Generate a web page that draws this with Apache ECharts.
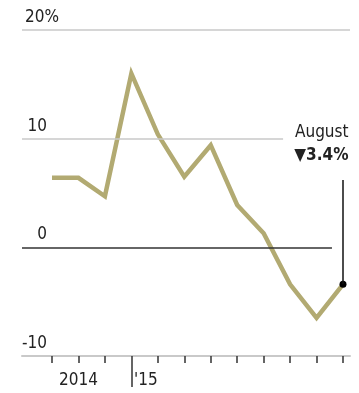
<!DOCTYPE html>
<html>
<head>
<meta charset="utf-8">
<script src="https://cdn.jsdelivr.net/npm/echarts@6/dist/echarts.min.js"></script>
<style>
  html, body { margin: 0; padding: 0; background: #fff; }
  #chart { width: 359px; height: 393px; }
</style>
</head>
<body>
<div id="chart"></div>
<script>
// Monthly change, % (points sit at month ends, Sep 2014 – Aug 2015)
const months = ['2014-09', '2014-10', '2014-11', '2014-12', '2015-01', '2015-02',
                '2015-03', '2015-04', '2015-05', '2015-06', '2015-07', '2015-08'];
const values = [6.4, 6.4, 4.7, 16.0, 10.4, 6.5, 9.4, 3.9, 1.3, -3.4, -6.5, -3.4];
const yTicks = [-10, 0, 10, 20];
const yearLabels = { 1: '2014', 3: "'15" };
const yearTickIndex = 3;
const lastLabel = 'August';

const FONT = '"Liberation Sans Narrow", "DejaVu Sans Condensed", "Liberation Sans", sans-serif';
const FS = 17;
const LINE = '#b2aa72';
const GRID = '#c9c9c9';
const INK = '#222';

const yMin = yTicks[0], yMax = yTicks[yTicks.length - 1], yStep = yTicks[1] - yTicks[0];
const last = values[values.length - 1];

const seriesData = values.map((v, i) => {
  if (i !== values.length - 1) return v;
  return {
    value: v,
    symbol: 'circle',
    symbolSize: 7,
    itemStyle: { color: '#000' },
    label: {
      show: true,
      position: [9, -161],
      align: 'right',
      verticalAlign: 'top',
      formatter: () => '{a|' + lastLabel + '}\n{b|' + (v < 0 ? '▼' : '▲') + Math.abs(v).toFixed(1) + '%}',
      rich: {
        a: { fontFamily: FONT, fontSize: FS, color: INK, lineHeight: 25 },
        b: { fontFamily: FONT, fontSize: FS, fontWeight: 'bold', color: INK, lineHeight: 22 }
      }
    }
  };
});

const option = {
  animation: false,
  grid: [
    { left: 22, right: 9, top: 30, bottom: 37 },
    { left: 52, right: 16, top: 30, bottom: 37 }
  ],
  xAxis: [
    {
      gridIndex: 0, type: 'value', min: 0, max: 1, position: 'bottom',
      axisLine: { show: true, onZero: false, lineStyle: { color: GRID, width: 2 } },
      axisTick: { show: false }, axisLabel: { show: false }, splitLine: { show: false }
    },
    {
      gridIndex: 1, type: 'category', data: months, boundaryGap: false, position: 'bottom',
      axisLine: { show: false, onZero: false },
      axisTick: { show: true, interval: 0, length: 7, lineStyle: { color: '#333', width: 1.5 } },
      axisLabel: { show: false }, splitLine: { show: false }
    },
    {
      gridIndex: 1, type: 'category', data: months, boundaryGap: false, position: 'bottom',
      axisLine: { show: false, onZero: false },
      axisTick: { show: true, interval: (i) => i === yearTickIndex, length: 31, lineStyle: { color: '#333', width: 1.5 } },
      axisLabel: {
        show: true, interval: 0, margin: 16,
        formatter: (val, i) => yearLabels[i] ? '{' + (i === yearTickIndex ? 'r' : 'c') + '|' + yearLabels[i] + '}' : '',
        rich: {
          c: { fontFamily: FONT, fontSize: FS, color: INK },
          r: { fontFamily: FONT, fontSize: FS, color: INK, padding: [0, 0, 0, 29] }
        }
      },
      splitLine: { show: false }
    }
  ],
  yAxis: [
    {
      gridIndex: 0, type: 'value', min: yMin, max: yMax, interval: yStep,
      axisLine: { show: false }, axisTick: { show: false }, splitLine: { show: false },
      axisLabel: {
        inside: true, margin: 37, align: 'right', verticalAlign: 'bottom', padding: [0, 0, 4, 0],
        formatter: (v) => v === yMax ? '{n|' + v + '}{p|%}' : '{n|' + v + '}{s|}',
        rich: {
          n: { fontFamily: FONT, fontSize: FS, color: INK },
          p: { fontFamily: FONT, fontSize: FS, color: INK },
          s: { width: 12 }
        }
      }
    },
    {
      gridIndex: 1, type: 'value', min: yMin, max: yMax, interval: yStep, show: false
    }
  ],
  series: [
    {
      // horizontal reference lines
      type: 'line', xAxisIndex: 0, yAxisIndex: 0, data: [], silent: true,
      markLine: {
        silent: true, symbol: 'none', label: { show: false }, animation: false,
        data: [
          [{ coord: [0, 20], lineStyle: { color: GRID, width: 1.5, type: 'solid' } }, { coord: [1, 20] }],
          [{ coord: [0, 10], lineStyle: { color: GRID, width: 1.5, type: 'solid' } }, { coord: [0.796, 10] }],
          [{ coord: [0, 0], lineStyle: { color: '#333', width: 1.5, type: 'solid' } }, { coord: [0.945, 0] }]
        ]
      }
    },
    {
      type: 'line', xAxisIndex: 1, yAxisIndex: 1,
      data: seriesData,
      symbol: 'none',
      lineStyle: { color: LINE, width: 4.5, join: 'miter' },
      itemStyle: { color: LINE },
      z: 3,
      markLine: {
        silent: true, symbol: 'none', label: { show: false },
        lineStyle: { color: '#111', width: 1.5, type: 'solid' },
        data: [[{ coord: [months[months.length - 1], 6.2] }, { coord: [months[months.length - 1], last] }]]
      }
    }
  ]
};

const chart = echarts.init(document.getElementById('chart'), null, { renderer: 'canvas' });
chart.setOption(option);
</script>
</body>
</html>
